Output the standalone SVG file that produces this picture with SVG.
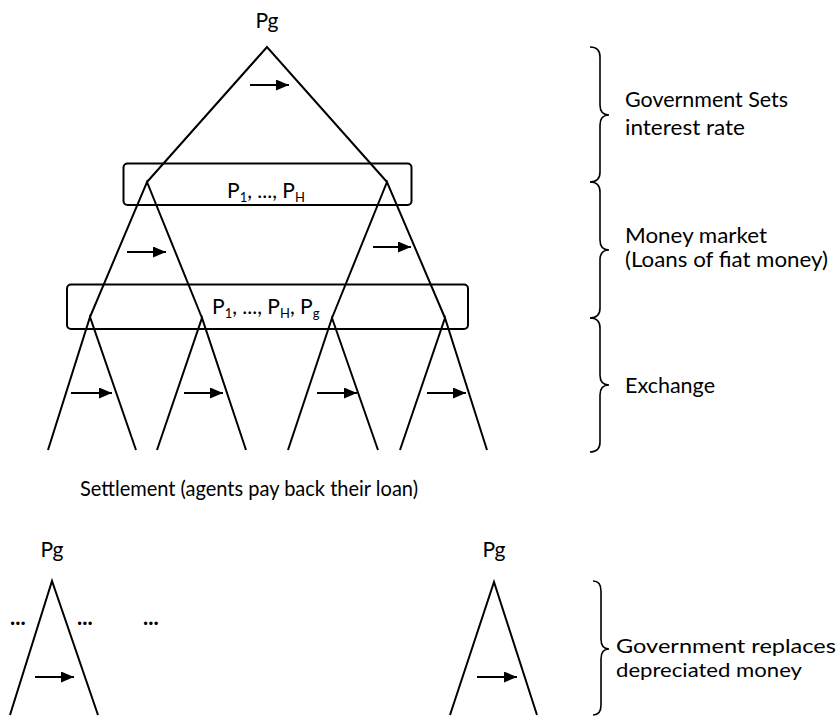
<svg xmlns="http://www.w3.org/2000/svg" width="838" height="717" viewBox="0 0 838 717">
<defs>
<style>
.ln{fill:none;stroke:#000;stroke-width:2;stroke-linejoin:miter}
.box{fill:none;stroke:#000;stroke-width:2}
.br{fill:none;stroke:#000;stroke-width:1.6}
.ar{stroke:#000;stroke-width:2;marker-end:url(#ah)}
text{font-family:Lato,"Open Sans","Liberation Sans",sans-serif;font-size:21px;fill:#000}
.sub{font-size:13px}
.dots{font-weight:bold;font-size:22px}
.sm{font-size:19px}
</style>
<marker id="ah" markerUnits="userSpaceOnUse" markerWidth="14" markerHeight="12" refX="13" refY="5.5" orient="auto">
<path d="M0,0 L13,5.5 L0,11 z" fill="#000"/>
</marker>
</defs>
<rect width="838" height="717" fill="#fff"/>
<g id="tree-top">
<text x="267" y="28" text-anchor="middle">Pg</text>
<polyline class="ln" points="147,182 267,47 387,182"/>
</g>
<g id="box-money">
<rect class="box" x="123.5" y="163.5" width="288" height="41.5" rx="4"/>
<text x="227" y="198">P<tspan class="sub" dy="4">1</tspan><tspan dy="-4">, ..., P</tspan><tspan class="sub" dy="4">H</tspan></text>
</g>
<g id="tree-level2">
<polyline class="ln" points="90,317 147,182 202,318"/>
<polyline class="ln" points="332,318 387,182 445,318"/>
</g>
<g id="box-exchange">
<rect class="box" x="67" y="284.5" width="401" height="44.5" rx="4"/>
<text x="212" y="314">P<tspan class="sub" dy="4">1</tspan><tspan dy="-4">, ..., P</tspan><tspan class="sub" dy="4">H</tspan><tspan dy="-4">, P</tspan><tspan class="sub" dy="4">g</tspan></text>
</g>
<g id="tree-level3">
<polyline class="ln" points="48,450 90,317 136,450"/>
<polyline class="ln" points="157,450 202,318 246,450"/>
<polyline class="ln" points="288,450 332,318 378,450"/>
<polyline class="ln" points="400,450 445,318 487,450"/>
</g>
<g id="connectors">
<line class="ar" x1="250" y1="85" x2="289" y2="85"/>
<line class="ar" x1="127" y1="252" x2="166" y2="252"/>
<line class="ar" x1="373" y1="247" x2="411" y2="247"/>
<line class="ar" x1="71" y1="393" x2="112" y2="393"/>
<line class="ar" x1="184" y1="393" x2="223" y2="393"/>
<line class="ar" x1="317" y1="393" x2="357" y2="393"/>
<line class="ar" x1="427" y1="393" x2="466" y2="393"/>
<line class="ar" x1="35" y1="677" x2="74" y2="677"/>
<line class="ar" x1="477" y1="677" x2="517" y2="677"/>
</g>
<g id="braces">
<path class="br" d="M590,47 Q600,47 600,57 L600,105 Q600,115 609,115 Q600,115 600,125 L600,172 Q600,182 590,182"/>
<path class="br" d="M590,182 Q600,182 600,192 L600,240 Q600,250 609,250 Q600,250 600,260 L600,308 Q600,318 590,318"/>
<path class="br" d="M590,318 Q600,318 600,328 L600,375 Q600,385 609,385 Q600,385 600,395 L600,442 Q600,452 590,452"/>
<path class="br" d="M593,581 Q601,581 601,591 L601,639 Q601,649 609,649 Q601,649 601,659 L601,705 Q601,715 593,715"/>
</g>
<g id="label-gov">
<text x="625" y="107" textLength="163" lengthAdjust="spacingAndGlyphs">Government Sets</text>
<text x="625" y="135" textLength="120" lengthAdjust="spacingAndGlyphs">interest rate</text>
</g>
<g id="label-money">
<text x="625" y="243" textLength="142" lengthAdjust="spacingAndGlyphs">Money market</text>
<text x="625" y="267" textLength="203" lengthAdjust="spacingAndGlyphs">(Loans of fiat money)</text>
</g>
<g id="label-exchange">
<text x="625" y="393" textLength="90" lengthAdjust="spacingAndGlyphs">Exchange</text>
</g>
<g id="label-settlement">
<text x="80" y="496" textLength="338" lengthAdjust="spacingAndGlyphs">Settlement (agents pay back their loan)</text>
</g>
<g id="tree-bottom-left">
<text x="52" y="557" text-anchor="middle">Pg</text>
<polyline class="ln" points="10,715 52,581 98,715"/>
<text class="dots" x="10" y="625">...</text>
<text class="dots" x="77" y="625">...</text>
<text class="dots" x="143" y="625">...</text>
</g>
<g id="tree-bottom-right">
<text x="494" y="557" text-anchor="middle">Pg</text>
<polyline class="ln" points="450,715 494,582 537,715"/>
</g>
<g id="label-replace">
<text class="sm" x="616" y="653" textLength="220" lengthAdjust="spacingAndGlyphs">Government replaces</text>
<text class="sm" x="616" y="677" textLength="186" lengthAdjust="spacingAndGlyphs">depreciated money</text>
</g>
</svg>
